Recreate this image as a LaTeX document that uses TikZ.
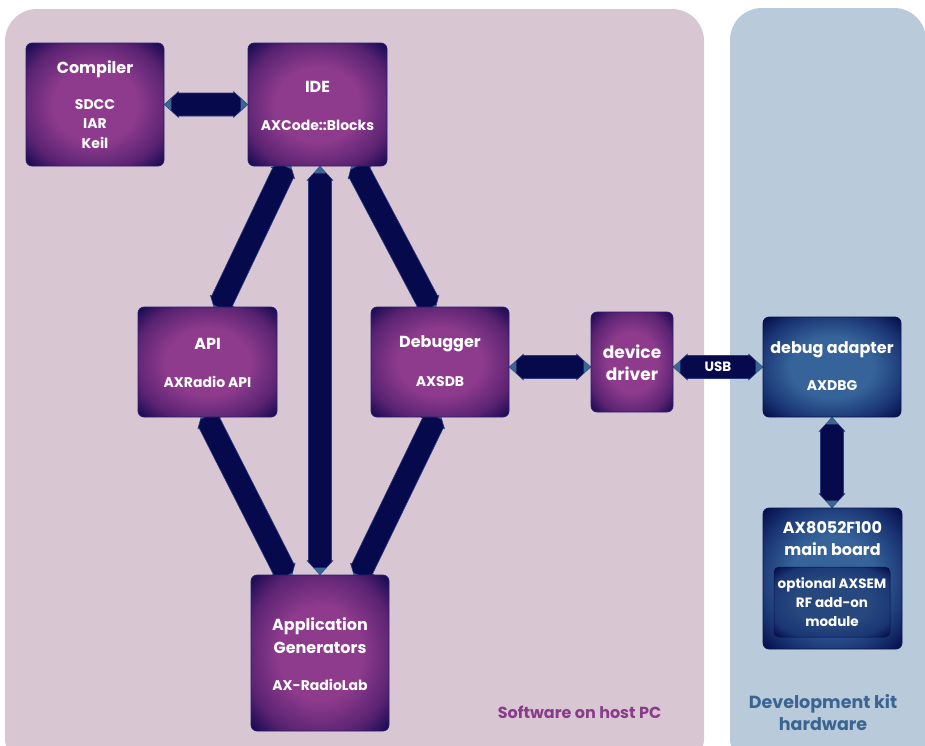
\documentclass[tikz,border=0pt]{standalone}
\usepackage{fontspec}
\setmainfont{Poppins}
\usetikzlibrary{calc}
\pgfdeclarelayer{back}\pgfdeclarelayer{mid}\pgfsetlayers{back,mid,main}
\definecolor{panelL}{HTML}{D9C6D3}
\definecolor{panelR}{HTML}{B9CBDB}
\definecolor{arrfill}{HTML}{060A4C}
\definecolor{arredge}{HTML}{2A3A7E}
\definecolor{tipblue}{HTML}{3A6696}
\definecolor{pc}{HTML}{8F3B8D}
\definecolor{pm}{HTML}{5A2372}
\definecolor{pe}{HTML}{1E0C55}
\definecolor{bc}{HTML}{36649A}
\definecolor{bm}{HTML}{1A3574}
\definecolor{be}{HTML}{081250}
\definecolor{mc}{HTML}{27487F}
\definecolor{me}{HTML}{08114A}
\definecolor{boxedge}{HTML}{2B1C6E}
\definecolor{titleL}{HTML}{8A3C8A}
\definecolor{titleR}{HTML}{3B6493}
\pgfdeclareradialshading{purplebox}{\pgfpoint{0bp}{0bp}}{color(0bp)=(pc); color(15bp)=(pc); color(27bp)=(pm); color(34bp)=(pe); color(50bp)=(pe)}
\pgfdeclareradialshading{bluebox}{\pgfpoint{0bp}{0bp}}{color(0bp)=(bc); color(15bp)=(bc); color(27bp)=(bm); color(34bp)=(be); color(50bp)=(be)}
\pgfdeclareradialshading{modbox}{\pgfpoint{0bp}{0bp}}{color(0bp)=(mc); color(16bp)=(mc); color(28bp)=(bm); color(34bp)=(me); color(50bp)=(me)}
\newcommand\barrow[2]{%
  \coordinate (ba1) at (#1); \coordinate (ba2) at (#2);
  \coordinate (bh1) at ($(ba1)!14pt!(ba2)$);
  \coordinate (bh2) at ($(ba2)!14pt!(ba1)$);
  \filldraw[fill=arrfill, draw=arredge, line width=0.6pt, line join=miter]
    (ba1) -- ($(bh1)!12.8pt!90:(ba2)$) -- ($(bh1)!11.5pt!90:(ba2)$)
    -- ($(bh2)!11.5pt!-90:(ba1)$) -- ($(bh2)!12.8pt!-90:(ba1)$) -- (ba2)
    -- ($(bh2)!12.8pt!90:(ba1)$) -- ($(bh2)!11.5pt!90:(ba1)$)
    -- ($(bh1)!11.5pt!-90:(ba2)$) -- ($(bh1)!12.8pt!-90:(ba2)$) -- cycle;
  \coordinate (bt1) at ($(ba1)!7pt!(ba2)$);
  \coordinate (bt2) at ($(ba2)!7pt!(ba1)$);
  \fill[tipblue] (ba1) -- ($(bt1)!6.4pt!90:(ba2)$) -- ($(bt1)!6.4pt!-90:(ba2)$) -- cycle;
  \fill[tipblue] (ba2) -- ($(bt2)!6.4pt!90:(ba1)$) -- ($(bt2)!6.4pt!-90:(ba1)$) -- cycle;
}
\tikzset{
  pbox/.style={shading=purplebox, draw=boxedge, line width=0.7pt, rounded corners=6pt, inner sep=0pt},
  bbox/.style={shading=bluebox, draw=be, line width=0.7pt, rounded corners=6pt, inner sep=0pt},
  mbox/.style={shading=modbox, draw=me, line width=0.5pt, rounded corners=5pt, inner sep=0pt},
  ttl/.style={text=white, font=\fontsize{16}{22}\selectfont\bfseries, align=center, inner sep=0pt},
  sub/.style={text=white, font=\fontsize{14}{19.5}\selectfont\bfseries, align=center, inner sep=0pt},
}
\begin{document}
\begin{tikzpicture}[x=1pt,y=-1pt]
\useasboundingbox (0,0) rectangle (925,745);
\begin{pgfonlayer}{back}
  \fill[white] (0,0) rectangle (925,745);
  \fill[panelL, rounded corners=32pt] (5,9) rectangle (704,770);
  \fill[panelR, rounded corners=32pt] (730,8) rectangle (926,770);
\end{pgfonlayer}
% boxes
\node[pbox, minimum width=138pt, minimum height=123pt] (cmp) at (95,104.5) {};
\node[pbox, minimum width=139pt, minimum height=123pt] (ide) at (317.5,104.5) {};
\node[pbox, minimum width=139pt, minimum height=110pt] (api) at (207.5,362) {};
\node[pbox, minimum width=138pt, minimum height=110pt] (dbg) at (440,362) {};
\node[pbox, minimum width=82pt, minimum height=100pt] (drv) at (632,362) {};
\node[bbox, minimum width=138pt, minimum height=100pt] (dad) at (832,367) {};
\node[bbox, minimum width=139pt, minimum height=141pt] (brd) at (832.5,578.5) {};
\node[mbox, minimum width=116pt, minimum height=70pt] (mod) at (832,602) {};
\node[pbox, minimum width=138pt, minimum height=156pt] (app) at (320,653) {};
% texts
\node[ttl] (cmpT) at (95,69) {Compiler};
\node[sub] (cmpS) at (95,124) {SDCC\\IAR\\Keil};
\node[ttl] (ideT) at (317.5,87) {IDE};
\node[sub] (ideS) at (317.5,125) {AXCode::Blocks};
\node[ttl] (apiT) at (207.5,344) {API};
\node[sub] (apiS) at (207.5,382) {AXRadio API};
\node[ttl] (dbgT) at (440,344) {Debugger};
\node[sub] (dbgS) at (440,382) {AXSDB};
\node[ttl, font=\fontsize{17}{22}\selectfont\bfseries] (drvT) at (632,363) {device\\driver};
\node[ttl] (dadT) at (832,350) {debug adapter};
\node[sub] (dadS) at (832,386) {AXDBG};
\node[ttl] (brdT) at (832.5,539) {AX8052F100\\main board};
\node[sub, font=\fontsize{13.5}{19}\selectfont\bfseries] (modT) at (832,602) {optional AXSEM\\RF add-on\\module};
\node[ttl, font=\fontsize{16}{23}\selectfont\bfseries] (appT) at (320,635.5) {Application\\Generators};
\node[sub] (appS) at (320,685) {AX-RadioLab};
\node[ttl, text=titleL] (swT) at (579.5,712) {Software on host PC};
\node[ttl, text=titleR, font=\fontsize{17.5}{22}\selectfont\bfseries] (hwT) at (823,713) {Development kit\\hardware};
% connectors
\begin{pgfonlayer}{mid}
  \barrow{cmp.east}{ide.west}
  \barrow{ide.south -| app.north}{app.north}
  \barrow{$(ide.south)+(-28.5,-6)$}{$(api.north)+(8.5,7)$}
  \barrow{$(ide.south)+(35.5,-6)$}{$(dbg.north)+(-6,7)$}
  \barrow{$(api.south)+(-4.5,-7)$}{$(app.north)+(-30,7)$}
  \barrow{$(dbg.south)+(-1,-7)$}{$(app.north)+(36,7)$}
  \barrow{$(dbg.east)+(0,5)$}{$(drv.west)+(0,5)$}
  \barrow{drv.east |- dad.west}{dad.west}
  \barrow{dad.south}{dad.south |- brd.north}
\end{pgfonlayer}
\node[text=white, font=\fontsize{13.5}{15}\selectfont\bfseries, inner sep=0pt] (usb) at ($(drv.east |- dad.west)!0.5!(dad.west)$) {USB};
\end{tikzpicture}
\end{document}
